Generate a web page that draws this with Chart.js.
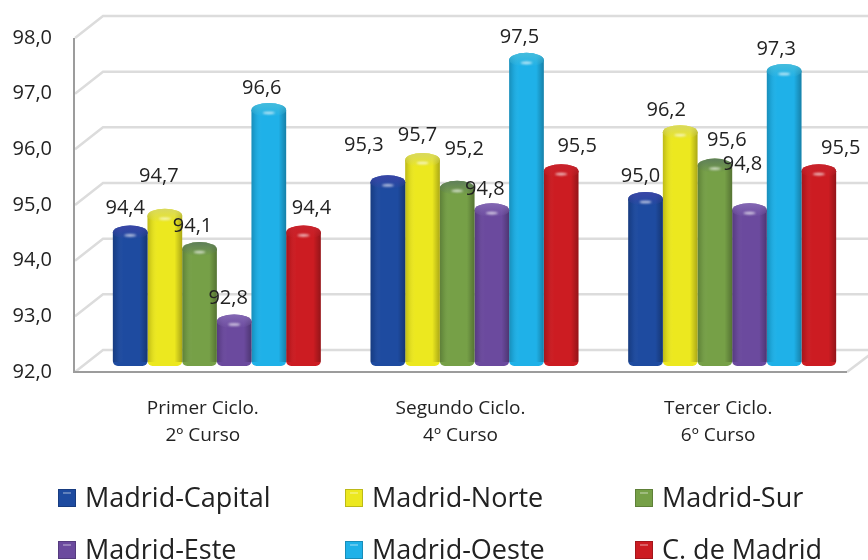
<!DOCTYPE html>
<html>
<head>
<meta charset="utf-8">
<title>Madrid</title>
<script src="https://cdn.jsdelivr.net/npm/chart.js@4"></script>
<style>
    html, body { margin: 0; padding: 0; background: #fff; overflow: hidden; }
    canvas { display: block; }
</style>
</head>
<body>
<canvas id="cursosChart" width="868" height="560"></canvas>
<script>
// datos
const cursos = [['Primer Ciclo.', '2º Curso'], ['Segundo Ciclo.', '4º Curso'], ['Tercer Ciclo.', '6º Curso']];
const madridCapital = [94.4, 95.3, 95.0];
const madridNorte = [94.7, 95.7, 96.2];
const madridSur = [94.1, 95.2, 95.6];
const madridEste = [92.8, 94.8, 94.8];
const madridOeste = [96.6, 97.5, 97.3];
const cDeMadrid = [94.4, 95.5, 95.5];

const FONT = "'Open Sans', sans-serif";

// colores: base y tapa
const estilos = [
    { label: 'Madrid-Capital', data: madridCapital, color: '#1e4ba0', cap: '#3a45a6' },
    { label: 'Madrid-Norte', data: madridNorte, color: '#ece81f', cap: '#d8d860' },
    { label: 'Madrid-Sur', data: madridSur, color: '#76a047', cap: '#5f7f5a' },
    { label: 'Madrid-Este', data: madridEste, color: '#6b4a9e', cap: '#8468b4' },
    { label: 'Madrid-Oeste', data: madridOeste, color: '#1fb1e8', cap: '#45bcdc' },
    { label: 'C. de Madrid', data: cDeMadrid, color: '#cc1c22', cap: '#c8232c' }
];

// desplazamiento de la "profundidad" 3D
const DEPTH_X = 29, DEPTH_Y = -22;
const BAR_DX = 14, BAR_DY = -6, CAP_RY = 7;

// ajuste manual de las etiquetas [dx, dy] respecto a la tapa de cada barra
const ajusteEtiquetas = [
    [[-5, -17], [-24, -30], [-5, -16]],
    [[-6, -32], [-5, -18], [-14, -15]],
    [[-7, -16], [7, -32], [12, -18]],
    [[-6, -16], [-7, -14], [-7, -39]],
    [[-7, -15], [-7, -16], [-8, -15]],
    [[8, -17], [16, -18], [22, -16]]
];

// posiciones de la leyenda
const leyendaX = [58, 345, 635];
const leyendaY = [498, 550];

const pared3d = {
    id: 'pared3d',
    beforeDatasetsDraw(chart) {
        const { ctx, scales: { y }, chartArea: a } = chart;
        ctx.save();
        // lineas de la pared del fondo
        ctx.strokeStyle = '#dcdcdc';
        ctx.lineWidth = 2.5;
        y.ticks.forEach(t => {
            const py = y.getPixelForValue(t.value);
            ctx.beginPath();
            ctx.moveTo(a.left + 1, py);
            ctx.lineTo(a.left + DEPTH_X, py + DEPTH_Y);
            ctx.lineTo(868, py + DEPTH_Y);
            ctx.stroke();
        });
        // suelo, lado derecho
        ctx.beginPath();
        ctx.moveTo(a.right, a.bottom);
        ctx.lineTo(a.right + DEPTH_X, a.bottom + DEPTH_Y);
        ctx.stroke();
        // ejes frontales
        ctx.strokeStyle = '#9c9c9c';
        ctx.lineWidth = 2;
        ctx.beginPath();
        ctx.moveTo(a.left, a.top);
        ctx.lineTo(a.left, a.bottom);
        ctx.lineTo(a.right, a.bottom);
        ctx.stroke();
        ctx.restore();

        // las barras van adelantadas dentro de la profundidad
        ctx.save();
        ctx.translate(BAR_DX, BAR_DY);
    },
    afterDatasetDraw(chart, args) {
        const ctx = chart.ctx;
        const e = estilos[args.index];
        args.meta.data.forEach(bar => {
            const { x, y, base, width } = bar.getProps(['x', 'y', 'base', 'width'], true);
            const left = x - width / 2;
            // sombreado cilindrico
            const g = ctx.createLinearGradient(left, 0, left + width, 0);
            g.addColorStop(0, 'rgba(0,0,0,0.2)');
            g.addColorStop(0.12, 'rgba(0,0,0,0.07)');
            g.addColorStop(0.3, 'rgba(255,255,255,0)');
            g.addColorStop(0.78, 'rgba(0,0,0,0)');
            g.addColorStop(1, 'rgba(0,0,0,0.28)');
            ctx.fillStyle = g;
            ctx.fillRect(left, y, width, base - y - 4);
            // tapa: mismo cuerpo, con fundido vertical hacia el color de la tapa
            const tapa = () => {
                ctx.beginPath();
                ctx.ellipse(x, y, width / 2, CAP_RY, 0, 0, Math.PI * 2);
            };
            ctx.fillStyle = e.color;
            tapa();
            ctx.fill();
            ctx.fillStyle = g;
            tapa();
            ctx.fill();
            const v = ctx.createLinearGradient(0, y - CAP_RY, 0, y + CAP_RY);
            v.addColorStop(0, e.cap);
            v.addColorStop(1, e.cap + '00');
            ctx.fillStyle = v;
            tapa();
            ctx.fill();
            // brillo difuminado
            ctx.save();
            ctx.filter = 'blur(1px)';
            ctx.fillStyle = 'rgba(255,255,255,0.7)';
            ctx.beginPath();
            ctx.ellipse(x, y + 3, 6, 1.3, 0, 0, Math.PI * 2);
            ctx.fill();
            ctx.restore();
        });
    },
    afterDatasetsDraw(chart) {
        const ctx = chart.ctx;
        ctx.restore();

        // etiquetas de valor
        ctx.save();
        ctx.font = '20px ' + FONT;
        ctx.fillStyle = '#222';
        ctx.textAlign = 'center';
        ctx.textBaseline = 'middle';
        chart.data.datasets.forEach((ds, i) => {
            chart.getDatasetMeta(i).data.forEach((bar, j) => {
                const [dx, dy] = ajusteEtiquetas[i][j];
                const txt = ds.data[j].toFixed(1).replace('.', ',');
                ctx.fillText(txt, bar.x + BAR_DX + dx, bar.y + BAR_DY - CAP_RY + dy);
            });
        });
        ctx.restore();

        // leyenda en 2 filas x 3 columnas
        ctx.save();
        ctx.textAlign = 'left';
        ctx.textBaseline = 'middle';
        ctx.font = '27px ' + FONT;
        estilos.forEach((e, i) => {
            const lx = leyendaX[i % 3];
            const ly = leyendaY[Math.floor(i / 3)];
            ctx.fillStyle = e.color;
            ctx.fillRect(lx, ly - 9, 18, 18);
            ctx.fillStyle = 'rgba(255,255,255,0.3)';
            ctx.fillRect(lx + 5, ly - 6, 8, 2);
            ctx.strokeStyle = 'rgba(0,0,0,0.2)';
            ctx.lineWidth = 1;
            ctx.strokeRect(lx + 0.5, ly - 8.5, 17, 17);
            ctx.fillStyle = '#222';
            ctx.fillText(e.label, lx + 27, ly + 1.5);
        });
        ctx.restore();
    }
};

new Chart(document.getElementById('cursosChart').getContext('2d'), {
    type: 'bar',
    data: {
        labels: cursos,
        datasets: estilos.map(e => ({
            label: e.label,
            data: e.data,
            base: 92,
            backgroundColor: e.color,
            borderSkipped: false,
            borderRadius: { topLeft: 0, topRight: 0, bottomLeft: 5, bottomRight: 5 }
        }))
    },
    options: {
        responsive: false,
        animation: false,
        layout: { padding: { top: 38, right: 21, left: 0, bottom: 0 } },
        categoryPercentage: 0.807,
        barPercentage: 1,
        plugins: {
            legend: { display: false },
            tooltip: { enabled: false }
        },
        scales: {
            y: {
                min: 92,
                max: 98,
                ticks: {
                    stepSize: 1,
                    padding: 14,
                    color: '#222',
                    font: { family: FONT, size: 20 },
                    callback: v => v.toFixed(1).replace('.', ',')
                },
                grid: { display: false },
                border: { display: false },
                afterFit(scale) { scale.width = 74; }
            },
            x: {
                ticks: {
                    padding: 15,
                    color: '#222',
                    maxRotation: 0,
                    font: { family: FONT, size: 19, lineHeight: 1.42 }
                },
                grid: { display: false },
                border: { display: false },
                afterFit(scale) { scale.height = 188; }
            }
        }
    },
    plugins: [pared3d]
});
</script>
</body>
</html>
